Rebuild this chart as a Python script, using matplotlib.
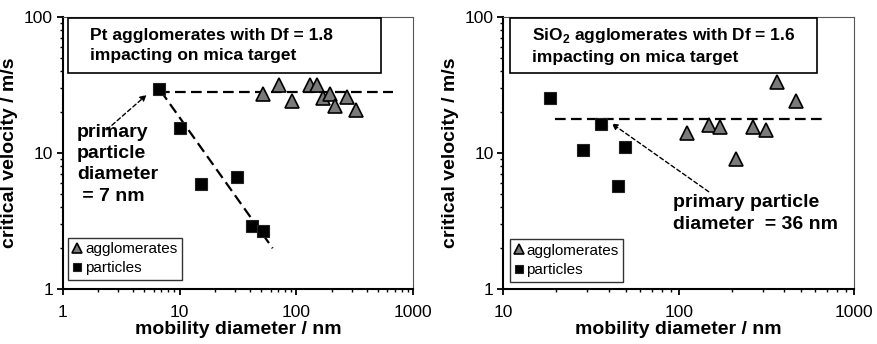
import matplotlib
matplotlib.use("Agg")
import matplotlib.pyplot as plt
from matplotlib.patches import Rectangle
from matplotlib.ticker import LogLocator, NullFormatter

plt.rcParams['font.family'] = ['Liberation Sans', 'DejaVu Sans']
plt.rcParams['mathtext.fontset'] = 'custom'
plt.rcParams['mathtext.rm'] = 'Liberation Sans'
plt.rcParams['mathtext.bf'] = 'Liberation Sans:bold'

# ---- Left panel: Pt ----
pt_part_d = [6.7, 10.1, 15.3, 30.8, 41.9, 51.4]
pt_part_v = [29.3, 15.2, 5.9, 6.7, 2.91, 2.68]
pt_agg_d = [51.4, 71.3, 91, 130, 151, 169, 194, 213, 269, 323]
pt_agg_v = [27.0, 31.6, 24.1, 31.6, 31.6, 25.2, 27.1, 22.1, 25.9, 20.7]
pt_hline_d = [6.7, 673]
pt_hline_v = [28.2, 28.2]
pt_fit_d = [6.9, 62.6]
pt_fit_v = [28.5, 2.0]

# ---- Right panel: SiO2 ----
si_part_d = [18.4, 28.5, 35.9, 44.8, 49.3]
si_part_v = [25.2, 10.5, 16.2, 5.75, 11.1]
si_agg_d = [112, 149, 172, 212, 264, 314, 363, 466]
si_agg_v = [14.0, 16.0, 15.6, 9.1, 15.6, 14.8, 33.3, 24.0]
si_hline_d = [19.6, 702]
si_hline_v = [17.7, 17.7]

fig = plt.figure(figsize=(8.77, 3.44), dpi=100)
W, H = 877, 344
axL = fig.add_axes([62.7 / W, 1 - 289.3 / H, 350.6 / W, 272.6 / H])
axR = fig.add_axes([503.3 / W, 1 - 289.3 / H, 351 / W, 272.6 / H])

dash = (0, (4.8, 2.4))


def style(ax, xlim, xticks):
    ax.set_xscale('log')
    ax.set_yscale('log')
    ax.set_xlim(*xlim)
    ax.set_ylim(1, 100)
    ax.set_xticks(xticks)
    ax.set_xticklabels([str(t) for t in xticks])
    ax.set_yticks([1, 10, 100])
    ax.set_yticklabels(['1', '10', '100'])
    ax.xaxis.set_minor_locator(LogLocator(base=10, subs=range(2, 10)))
    ax.yaxis.set_minor_locator(LogLocator(base=10, subs=range(2, 10)))
    ax.xaxis.set_minor_formatter(NullFormatter())
    ax.yaxis.set_minor_formatter(NullFormatter())
    for s in ['left', 'bottom']:
        ax.spines[s].set_linewidth(1.5)
        ax.spines[s].set_color('black')
    for s in ['top', 'right']:
        ax.spines[s].set_linewidth(0.8)
        ax.spines[s].set_color('#555555')
    ax.tick_params(which='major', direction='out', length=4, width=1.3,
                   labelsize=12.5, top=False, right=False)
    ax.tick_params(axis='x', which='major', pad=7)
    ax.tick_params(axis='y', which='major', pad=3)
    ax.tick_params(which='minor', direction='out', length=2.5, width=1.0,
                   top=False, right=False)
    ax.set_xlabel('mobility diameter / nm', fontsize=14, fontweight='bold', labelpad=1)
    ax.set_ylabel('critical velocity / m/s', fontsize=14, fontweight='bold', labelpad=4)


style(axL, (1, 1000), [1, 10, 100, 1000])
style(axR, (10, 1000), [10, 100, 1000])

tri_kw = dict(marker='^', linestyle='none', markersize=10, markerfacecolor='#7a7a7a',
              markeredgecolor='black', markeredgewidth=1.2)
sq_kw = dict(marker='s', linestyle='none', markersize=8.5, markerfacecolor='black',
             markeredgecolor='#222222', markeredgewidth=0.8)

# Left
axL.plot(pt_hline_d, pt_hline_v, color='black', lw=1.6, linestyle=dash, zorder=2)
axL.plot(pt_fit_d, pt_fit_v, color='black', lw=1.6, linestyle=dash, zorder=2)
axL.plot(pt_agg_d, pt_agg_v, label='agglomerates', zorder=3, **tri_kw)
axL.plot(pt_part_d, pt_part_v, label='particles', zorder=3, **sq_kw)
axL.annotate('', xy=(5.23, 26.7), xytext=(2.38, 14.8),
             arrowprops=dict(arrowstyle='-|>', linestyle=(0, (3, 2)), lw=1.0, color='black',
                             mutation_scale=9, shrinkA=0, shrinkB=0))
axL.text(1.33, 16.3, 'primary\nparticle\ndiameter\n = 7 nm', fontsize=14, fontweight='bold',
         va='top', ha='left', linespacing=1.32)

# Right
axR.plot(si_hline_d, si_hline_v, color='black', lw=1.6, linestyle=dash, zorder=2)
axR.plot(si_agg_d, si_agg_v, label='agglomerates', zorder=3, **tri_kw)
axR.plot(si_part_d, si_part_v, label='particles', zorder=3, **sq_kw)
axR.annotate('', xy=(41.4, 16.5), xytext=(148, 5.2),
             arrowprops=dict(arrowstyle='-|>', linestyle=(0, (3, 2)), lw=1.0, color='black',
                             mutation_scale=9, shrinkA=0, shrinkB=0))
axR.text(93, 5.0, 'primary particle\ndiameter  = 36 nm', fontsize=14, fontweight='bold',
         va='top', ha='left', linespacing=1.38)

# Title boxes
for ax, (x0, x1), txt in [
        (axL, (0.015, 0.908), 'Pt agglomerates with Df = 1.8\nimpacting on mica target'),
        (axR, (0.018, 0.894), r'SiO$_\mathbf{2}$ agglomerates with Df = 1.6' + '\nimpacting on mica target')]:
    ax.add_patch(Rectangle((x0, 0.793), x1 - x0, 0.995 - 0.793, transform=ax.transAxes,
                           facecolor='white', edgecolor='black', lw=1.2, zorder=4))
    ax.text(x0 + 0.063, 0.893, txt, transform=ax.transAxes, fontsize=12.5, fontweight='bold',
            va='center', ha='left', linespacing=1.4, zorder=5)

for ax, x0, y0 in [(axL, 0.016, 0.034), (axR, 0.018, 0.028)]:
    leg = ax.legend(loc='lower left', bbox_to_anchor=(x0, y0), borderaxespad=0,
                    fontsize=11, frameon=True, fancybox=False, edgecolor='black',
                    handlelength=0.6, handletextpad=0.2, borderpad=0.3, labelspacing=0.35,
                    markerscale=0.75)
    leg.get_frame().set_linewidth(1.0)

fig.savefig('out.png', dpi=100)
